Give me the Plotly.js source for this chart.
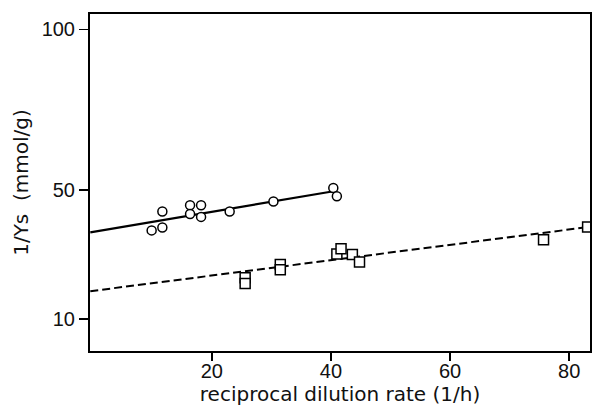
<!DOCTYPE html>
<html><head><meta charset="utf-8">
<script src="https://cdn.plot.ly/plotly-3.0.1.min.js"></script>
<style>html,body{margin:0;padding:0;background:#fff}</style>
</head><body><div id="chart" style="width:600px;height:407px"></div>
<script>
// Circles (upper series)
const circleX = [9.9, 11.7, 11.7, 16.35, 16.35, 18.2, 18.2, 23.0, 30.35, 40.4, 41.0];
const circleY = [37.5, 38.4, 43.4, 45.3, 42.6, 45.3, 41.7, 43.4, 46.5, 50.7, 48.1];
// Squares (lower series)
const squareX = [25.6, 25.6, 31.5, 31.5, 41.0, 41.7, 43.6, 44.8, 75.7, 83.1];
const squareY = [22.8, 21.0, 26.9, 25.3, 30.2, 31.8, 30.0, 27.7, 34.6, 38.6];
// Fitted lines (endpoints)
const solidLineX = [-0.4, 40.2];
const solidLineY = [36.9, 49.6];
const dashLineX = [-0.4, 83.0];
const dashLineY = [18.6, 38.5];
const xTicks = [20, 40, 60, 80];
const yTicks = [10, 50, 100];

const traces = [
  {x: solidLineX, y: solidLineY, mode: 'lines', line: {color: '#000', width: 2.2}, hoverinfo: 'skip'},
  {x: dashLineX, y: dashLineY, mode: 'lines', line: {color: '#000', width: 2, dash: '8px,4px'}, hoverinfo: 'skip'},
  {x: circleX, y: circleY, mode: 'markers',
   marker: {symbol: 'circle', size: 9, color: '#fff', line: {color: '#000', width: 1.5}}},
  {x: squareX, y: squareY, mode: 'markers',
   marker: {symbol: 'square', size: 10, color: '#fff', line: {color: '#000', width: 1.5}}}
];

const titleFont = {family: 'DejaVu Sans, sans-serif', size: 20, color: '#111'};
const tickFont = {family: 'Liberation Sans, Arial, sans-serif', size: 20, color: '#111'};

const layout = {
  width: 600, height: 407,
  margin: {l: 90, r: 10, t: 14, b: 56},
  showlegend: false,
  paper_bgcolor: '#fff', plot_bgcolor: '#fff',
  font: {family: 'Liberation Sans, Arial, sans-serif', color: '#111', size: 20},
  xaxis: {
    range: [-0.45, 83.5], tickvals: xTicks, ticktext: xTicks.map(String),
    ticks: 'outside', ticklen: 8, tickwidth: 1.5, tickcolor: '#000',
    ticklabelstandoff: -7,
    showline: true, linecolor: '#000', linewidth: 2, mirror: true,
    showgrid: false, zeroline: false,
    tickfont: tickFont,
    title: {text: 'reciprocal dilution rate (1/h)', font: titleFont, standoff: 6}
  },
  yaxis: {
    range: [0, 104.8], tickvals: yTicks, ticktext: yTicks.map(String),
    ticks: 'outside', ticklen: 9, tickwidth: 1.5, tickcolor: '#000',
    showline: true, linecolor: '#000', linewidth: 2, mirror: true,
    showgrid: false, zeroline: false,
    tickfont: tickFont,
    title: {text: '1/Ys  (mmol/g)', font: titleFont, standoff: 8}
  }
};
Plotly.newPlot('chart', traces, layout, {displayModeBar: false, staticPlot: true});
</script></body></html>
